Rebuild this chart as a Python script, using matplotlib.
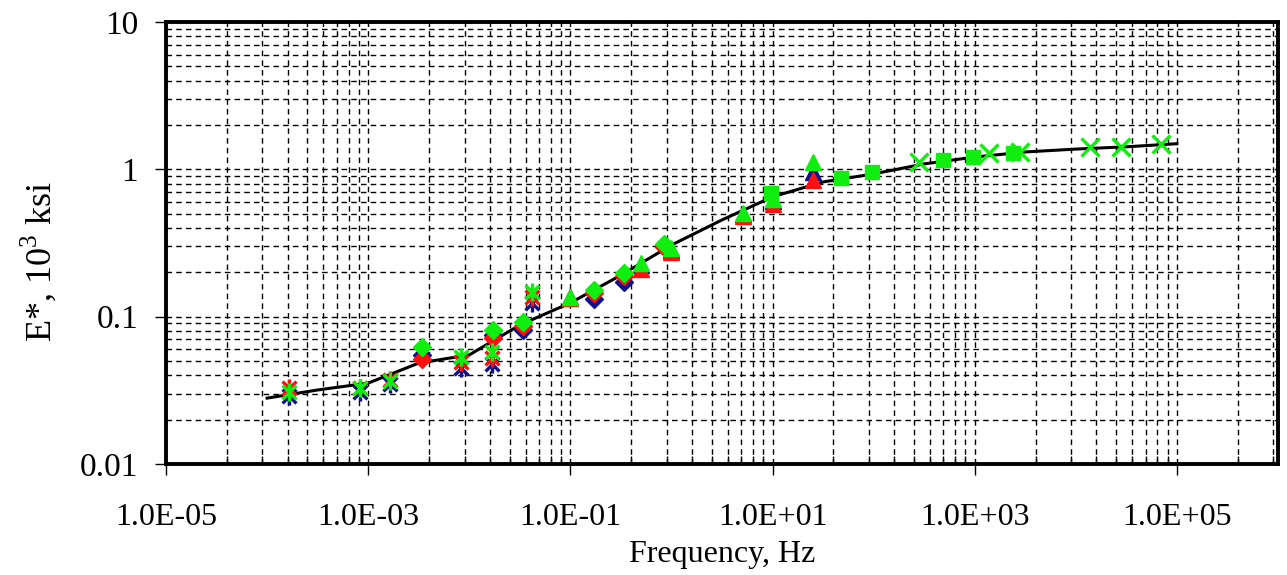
import numpy as np
import matplotlib
matplotlib.use('Agg')
import matplotlib.pyplot as plt
from matplotlib.path import Path
from matplotlib.ticker import FixedLocator, NullFormatter

plt.rcParams['font.family'] = ['Liberation Serif', 'DejaVu Serif']
plt.rcParams['mathtext.fontset'] = 'custom'
plt.rcParams['mathtext.rm'] = 'Liberation Serif'

# master curve
curve_f = [1e-4, 10**-3.5, 1e-3, 10**-2.5, 1e-2, 10**-1.5, 1e-1, 10**-0.5, 1e0,
           10**0.5, 1e1, 10**1.5, 1e2, 10**2.5, 1e3, 10**3.5, 1e4, 10**4.5, 1e5]
curve_E = [0.028, 0.0318, 0.0354, 0.0484, 0.055, 0.0877, 0.124, 0.191, 0.306,
           0.453, 0.65, 0.82, 0.93, 1.087, 1.21, 1.31, 1.37, 1.42, 1.49]

# asterisk group
f_star = [1.66e-4, 8.3e-4, 1.66e-3, 8.3e-3, 1.66e-2, 4.15e-2]
E_star_navy = [0.029, 0.031, 0.035, 0.045, 0.048, 0.124]
E_star_red = [0.033, 0.033, 0.037, 0.049, 0.052, 0.136]
E_star_green = [0.031, 0.033, 0.0366, 0.053, 0.0575, 0.147]

# diamond group
f_dia = [3.4e-3, 1.7e-2, 3.4e-2, 0.17, 0.34, 0.85]
E_dia_navy = [0.055, 0.075, 0.081, 0.131, 0.171, 0.30]
E_dia_red = [0.0515, 0.0716, 0.086, 0.145, 0.19, 0.296]
E_dia_green = [0.062, 0.081, 0.092, 0.152, 0.198, 0.311]

# triangle group
f_tri = [0.1, 0.5, 1.0, 5.1, 10.0, 25.0]
E_tri_navy = [0.135, 0.225, 0.285, 0.50, 0.61, 0.96]
E_tri_red = [0.133, 0.21, 0.275, 0.48, 0.58, 0.85]
E_tri_green = [0.136, 0.231, 0.292, 0.505, 0.63, 1.12]

# square group
f_sq = [9.6, 48, 96, 480, 960, 2400]
E_sq_green = [0.69, 0.873, 0.96, 1.16, 1.21, 1.29]

# x group
f_x = [278, 1390, 2780, 13900, 27800, 69500]
E_x_green = [1.12, 1.29, 1.31, 1.42, 1.42, 1.49]

xtick_labels = ['1.0E-05', '1.0E-03', '1.0E-01', '1.0E+01', '1.0E+03', '1.0E+05']
ytick_labels = ['0.01', '0.1', '1', '10']

navy = '#10108a'
red = '#ff1010'
green = '#10ee10'

# Excel style star: an x with a vertical bar
star = Path([(-1, -1), (1, 1), (-1, 1), (1, -1), (0, -1.3), (0, 1.3)],
            [Path.MOVETO, Path.LINETO, Path.MOVETO, Path.LINETO, Path.MOVETO, Path.LINETO])

fig = plt.figure(figsize=(12.87, 5.75), dpi=100)
ax = fig.add_axes([0.129, 0.193, 0.864, 0.769])

ax.plot(curve_f, curve_E, color='black', lw=2.2, zorder=3)

for c, es, ed, et in [(navy, E_star_navy, E_dia_navy, E_tri_navy),
                      (red, E_star_red, E_dia_red, E_tri_red),
                      (green, E_star_green, E_dia_green, E_tri_green)]:
    ax.plot(f_star, es, ls='none', marker=star, ms=13, mew=2.4, color=c, zorder=4)
    ax.plot(f_dia, ed, ls='none', marker='D', ms=9, color=c, zorder=4)
    ax.plot(f_tri, et, ls='none', marker='^', ms=11, color=c, zorder=4)

ax.plot(f_sq, E_sq_green, ls='none', marker='s', ms=10, color=green, zorder=4)
ax.plot(f_x, E_x_green, ls='none', marker='x', ms=13, mew=2.4, color=green, zorder=4)

ax.set_xscale('log')
ax.set_yscale('log')
ax.set_xlim(1e-5, 1e6)
ax.set_ylim(0.01, 10)

# major unit is two decades, minor lines at k^2 steps inside each
xmaj = [1e-5, 1e-3, 1e-1, 1e1, 1e3, 1e5]
xmin = [m * k * k for m in xmaj for k in range(2, 10)] + [1e6]
ax.xaxis.set_major_locator(FixedLocator(xmaj))
ax.xaxis.set_minor_locator(FixedLocator(xmin))
ax.set_xticklabels(xtick_labels)
ax.xaxis.set_minor_formatter(NullFormatter())

ax.yaxis.set_major_locator(FixedLocator([0.01, 0.1, 1, 10]))
ax.yaxis.set_minor_locator(FixedLocator([k * 10.0 ** n for n in range(-2, 1) for k in range(2, 10)]))
ax.set_yticklabels(ytick_labels)
ax.yaxis.set_minor_formatter(NullFormatter())

ax.tick_params(axis='both', which='major', direction='out', length=8, width=1)
ax.tick_params(axis='x', which='major', labelsize=23, pad=20)
ax.tick_params(axis='y', which='major', labelsize=24, pad=12)
ax.tick_params(axis='x', which='minor', direction='in', length=6, width=1)
ax.tick_params(axis='y', which='minor', length=0)

ax.grid(True, which='both', color='black', ls=(0, (4, 3)), lw=1.0)
ax.set_axisbelow(True)
for s in ax.spines.values():
    s.set_linewidth(2.8)
    s.set_zorder(5)

ax.set_xlabel('Frequency, Hz', fontsize=23, labelpad=6)
ax.set_ylabel('E*, 10$^3$ ksi', fontsize=26)
ax.yaxis.set_label_coords(-0.097, 0.457)

fig.savefig('out.png', dpi=100)
